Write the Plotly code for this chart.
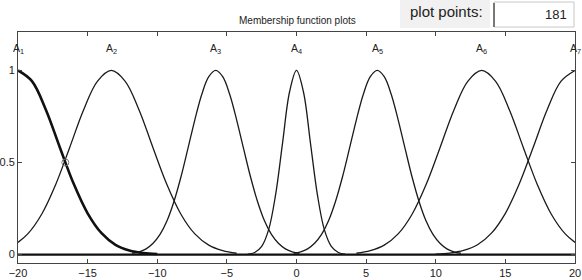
import plotly.graph_objects as go

# ---------------- data ----------------
mf_labels = ["A<sub>1</sub>", "A<sub>2</sub>", "A<sub>3</sub>", "A<sub>4</sub>",
             "A<sub>5</sub>", "A<sub>6</sub>", "A<sub>7</sub>"]
mf_centers = [-20, -13.3, -5.8, 0, 5.8, 13.3, 20]

a1_x = [-20, -19, -18, -17, -16, -15, -14, -13, -12, -11, -10]
a1_y = [1, 0.942, 0.787, 0.583, 0.384, 0.224, 0.116, 0.053, 0.022, 0.008, 0.0025]

a2_x = [-20, -19.3, -18.3, -17.3, -16.3, -15.3, -14.3, -13.3, -12.3, -11.3,
        -10.3, -9.3, -8.3, -7.3, -6.3, -5.3, -4.3]
a2_y = [0.066, 0.112, 0.219, 0.379, 0.579, 0.784, 0.941, 1, 0.941, 0.784,
        0.579, 0.379, 0.219, 0.112, 0.051, 0.021, 0.007]

a3_x = [-11.8, -11.3, -10.8, -10.3, -9.8, -9.3, -8.8, -8.3, -7.8, -7.3, -6.8, -6.3,
        -5.8, -5.3, -4.8, -4.3, -3.8, -3.3, -2.8, -2.3, -1.8, -1.3, -0.8, -0.3, 0.2]
a3_y = [0.007, 0.015, 0.031, 0.061, 0.109, 0.183, 0.288, 0.421, 0.575, 0.732, 0.871, 0.966,
        1, 0.966, 0.871, 0.732, 0.575, 0.421, 0.288, 0.183, 0.109, 0.061, 0.031, 0.015, 0.007]

a4_x = [-3.5, -3, -2.5, -2, -1.5, -1, -0.5, 0, 0.5, 1, 1.5, 2, 2.5, 3, 3.5]
a4_y = [0.002, 0.011, 0.044, 0.135, 0.325, 0.607, 0.883, 1, 0.883, 0.607, 0.325, 0.135,
        0.044, 0.011, 0.002]

a5_x = [-0.2, 0.3, 0.8, 1.3, 1.8, 2.3, 2.8, 3.3, 3.8, 4.3, 4.8, 5.3,
        5.8, 6.3, 6.8, 7.3, 7.8, 8.3, 8.8, 9.3, 9.8, 10.3, 10.8, 11.3, 11.8]
a5_y = [0.007, 0.015, 0.031, 0.061, 0.109, 0.183, 0.288, 0.421, 0.575, 0.732, 0.871, 0.966,
        1, 0.966, 0.871, 0.732, 0.575, 0.421, 0.288, 0.183, 0.109, 0.061, 0.031, 0.015, 0.007]

a6_x = [4.3, 5.3, 6.3, 7.3, 8.3, 9.3, 10.3, 11.3, 12.3, 13.3, 14.3, 15.3,
        16.3, 17.3, 18.3, 19.3, 20]
a6_y = [0.007, 0.021, 0.051, 0.112, 0.219, 0.379, 0.579, 0.784, 0.941, 1, 0.941, 0.784,
        0.579, 0.379, 0.219, 0.112, 0.066]

a7_x = [10, 11, 12, 13, 14, 15, 16, 17, 18, 19, 20]
a7_y = [0.0025, 0.008, 0.022, 0.053, 0.116, 0.224, 0.384, 0.583, 0.787, 0.942, 1]

baseline_x = [-20, 20]
baseline_y = [0, 0]

cursor_x = [-16.6]
cursor_y = [0.5]

x_ticks = [-20, -15, -10, -5, 0, 5, 10, 15, 20]
y_ticks = [0, 0.5, 1]
y_tick_labels = ["0", "0.5", "1"]

title_text = "Membership function plots"
points_label = "plot points:"
points_value = "181"

# ---------------- figure ----------------
FONT = "Liberation Sans, Arial, sans-serif"
fig = go.Figure()

fig.add_trace(go.Scatter(x=baseline_x, y=baseline_y, mode="lines",
                         line=dict(color="#111", width=2.2), hoverinfo="skip"))

curves = [(a2_x, a2_y), (a3_x, a3_y), (a4_x, a4_y), (a5_x, a5_y),
          (a6_x, a6_y), (a7_x, a7_y)]
for cx, cy in curves:
    fig.add_trace(go.Scatter(x=cx, y=cy, mode="lines",
                             line=dict(color="#1a1a1a", width=1.3, shape="spline"),
                             hoverinfo="skip"))
# selected function drawn thick
fig.add_trace(go.Scatter(x=a1_x, y=a1_y, mode="lines",
                         line=dict(color="#111", width=2.6, shape="spline"),
                         hoverinfo="skip"))
fig.add_trace(go.Scatter(x=cursor_x, y=cursor_y, mode="markers",
                         marker=dict(symbol="circle-open", size=7,
                                     color="#777", line=dict(width=1)),
                         hoverinfo="skip"))

for lab, cx in zip(mf_labels, mf_centers):
    fig.add_annotation(x=cx, y=1.118, xref="x", yref="y", text=lab,
                       showarrow=False, xanchor="center", yanchor="middle",
                       font=dict(family=FONT, size=10.5, color="#222"))

# header elements (paper coords relative to plot area 18..575 x 32..263 px)
W0, W1, H0, H1 = 18, 575, 32, 263


def px(v):
    return (v - W0) / (W1 - W0)


def py(v):
    return (H1 - v) / (H1 - H0)


fig.add_annotation(x=px(297), y=py(21), xref="paper", yref="paper", text=title_text,
                   showarrow=False, xanchor="center", yanchor="middle",
                   font=dict(family=FONT, size=10, color="#222"))

fig.add_shape(type="rect", xref="paper", yref="paper",
              x0=px(400), x1=px(490), y0=py(28), y1=py(0),
              fillcolor="#f1f1f1", line=dict(width=0), layer="below")
fig.add_annotation(x=px(485), y=py(11), xref="paper", yref="paper", text=points_label,
                   showarrow=False, xanchor="right", yanchor="middle",
                   font=dict(family=FONT, size=15, color="#222"))

fig.add_shape(type="rect", xref="paper", yref="paper",
              x0=px(494), x1=px(574), y0=py(27), y1=py(2),
              fillcolor="white", line=dict(color="#c8c8c8", width=1))
fig.add_shape(type="line", xref="paper", yref="paper",
              x0=px(494), x1=px(494), y0=py(27), y1=py(3),
              line=dict(color="#555", width=1.5))
fig.add_annotation(x=px(569), y=py(15), xref="paper", yref="paper", text=points_value,
                   showarrow=False, xanchor="right", yanchor="middle",
                   font=dict(family=FONT, size=13, color="#222"))

axis_common = dict(showline=True, mirror="ticks", linecolor="#444", linewidth=1,
                   ticks="inside", ticklen=4, tickcolor="#444", showgrid=False,
                   zeroline=False, automargin=False,
                   tickfont=dict(family=FONT, size=11, color="#222"))

fig.update_layout(
    width=582, height=280,
    margin=dict(l=18, r=7, t=32, b=17, pad=0, autoexpand=False),
    paper_bgcolor="white", plot_bgcolor="white",
    showlegend=False,
    xaxis=dict(range=[-20, 20], tickvals=x_ticks, **axis_common),
    yaxis=dict(range=[-0.046, 1.209], tickvals=y_ticks, ticktext=y_tick_labels,
               **axis_common),
)

fig.write_html("out.html",
               config={"displayModeBar": False, "staticPlot": True},
               post_script="document.body.style.margin='0';"
                           "document.body.style.overflow='hidden';")
